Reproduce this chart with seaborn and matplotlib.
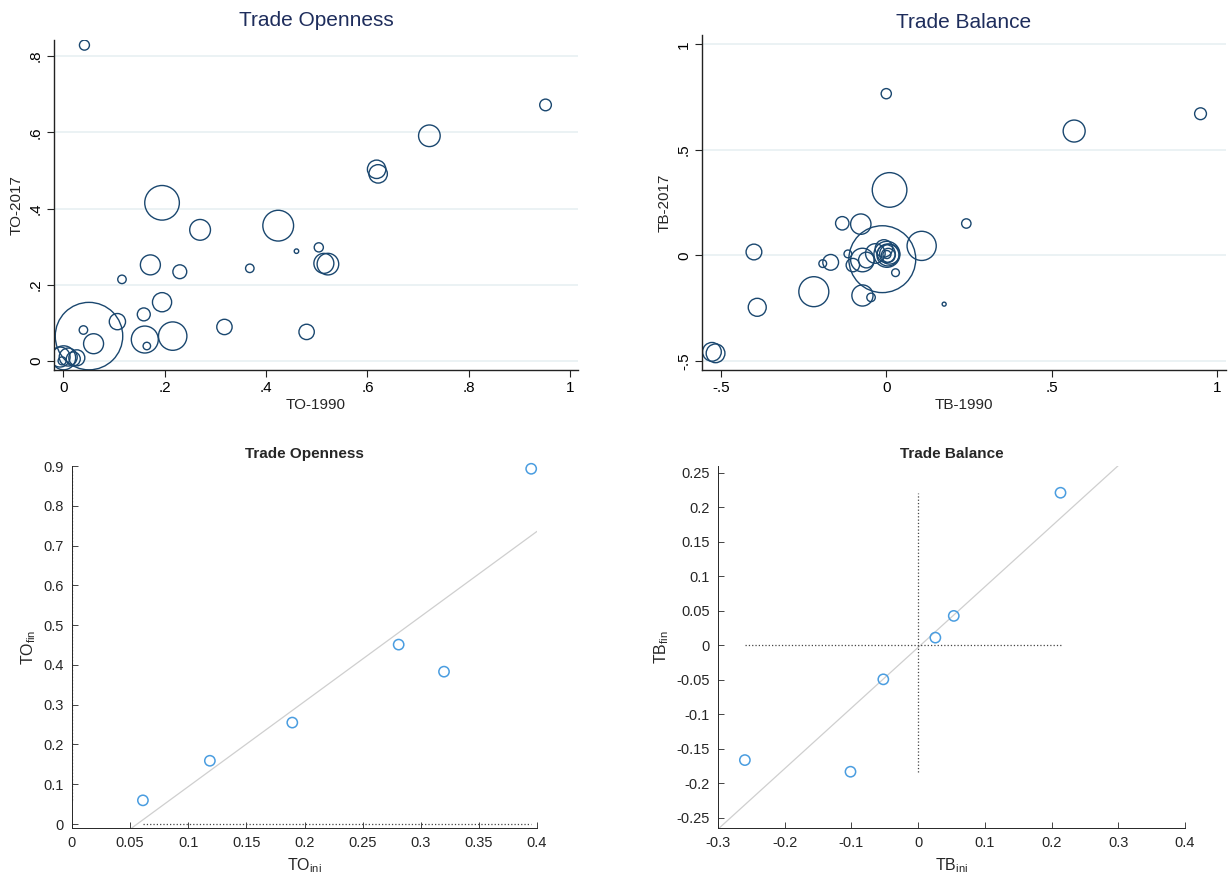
import numpy as np
import pandas as pd
import matplotlib
matplotlib.use('Agg')
import matplotlib.pyplot as plt
import seaborn as sns

sns.set_theme(style='white')
plt.rcParams['font.family'] = ['Liberation Sans', 'DejaVu Sans']

# top-left: trade openness 1990 vs 2017, bubble weight
to_1990 = [0.042, 0.951, 0.722, 0.618, 0.621, 0.195, 0.424, 0.270, 0.504, 0.460,
           0.514, 0.522, 0.172, 0.368, 0.230, 0.116, 0.195, 0.159, 0.107, 0.051,
           0.040, 0.318, 0.480, 0.216, 0.161, 0.060, 0.165,
           0.001, 0.010, 0.027, -0.002, -0.006, 0.020]
to_2017 = [0.829, 0.672, 0.591, 0.503, 0.491, 0.415, 0.355, 0.344, 0.298, 0.288,
           0.256, 0.254, 0.252, 0.243, 0.234, 0.214, 0.154, 0.122, 0.103, 0.065,
           0.081, 0.089, 0.076, 0.065, 0.056, 0.045, 0.039,
           0.008, 0.010, 0.008, 0.000, 0.010, 0.005]
to_weight = [25, 34, 117, 85, 85, 300, 237, 108, 21, 5,
             100, 117, 100, 18, 48, 18, 92, 42, 66, 1140,
             18, 59, 59, 202, 182, 100, 14,
             144, 81, 64, 16, 100, 49]

# top-right: trade balance 1990 vs 2017
tb_1990 = [0.000, 0.950, 0.568, 0.010, -0.133, -0.077, 0.242, -0.012, 0.107, -0.400,
           -0.168, -0.192, -0.116, -0.101, -0.072, -0.060, -0.033, -0.007,
           0.002, 0.005, 0.000, 0.006, 0.002, 0.010,
           0.028, -0.219, -0.072, -0.046, -0.390, 0.175, -0.527, -0.516]
tb_2017 = [0.766, 0.671, 0.589, 0.310, 0.152, 0.148, 0.151, -0.018, 0.045, 0.016,
           -0.033, -0.039, 0.007, -0.046, -0.022, -0.022, 0.009, 0.033,
           0.005, 0.002, 0.008, 0.000, 0.004, 0.006,
           -0.082, -0.172, -0.190, -0.199, -0.246, -0.231, -0.457, -0.464]
tb_weight = [26, 35, 121, 300, 45, 104, 22, 1120, 213, 62,
             62, 15, 15, 45, 139, 62, 96, 76,
             169, 121, 81, 49, 16, 100,
             15, 225, 112, 18, 81, 4, 88, 88]

# bottom: group averages
to_ini = [0.061, 0.1186, 0.1895, 0.281, 0.320, 0.395]
to_fin = [0.0595, 0.159, 0.255, 0.451, 0.383, 0.893]
tb_ini = [-0.2597, -0.1014, -0.0522, 0.0258, 0.0534, 0.2134]
tb_fin = [-0.1665, -0.1834, -0.0494, 0.0111, 0.0426, 0.2212]

navy = '#1a476f'
title_navy = '#1e2d5c'
grid_c = '#e8f0f2'


def stata_fmt(v):
    s = ('%g' % v)
    return s.replace('0.', '.') if abs(v) < 1 and v != 0 else s


def plain_fmt(v):
    v = round(float(v), 2)
    return '0' if v == 0 else '%g' % v


def bubble_panel(ax, x, y, w, xlab, ylab, title, xticks, yticks, xlim, ylim, pad):
    df = pd.DataFrame({'x': x, 'y': y, 'w': w})
    wmax = max(w)
    for t in yticks:
        ax.axhline(t, color=grid_c, lw=1.2, zorder=0)
    sns.scatterplot(data=df, x='x', y='y', size='w', sizes=(0, 2.07 * wmax),
                    size_norm=(0, wmax), legend=False, facecolor='none',
                    edgecolor=navy, linewidth=1.0, ax=ax)
    ax.set_xlim(xlim)
    ax.set_ylim(ylim)
    ax.set_xticks(xticks)
    ax.set_xticklabels([stata_fmt(v) for v in xticks], fontsize=11)
    ax.set_yticks(yticks)
    ax.set_yticklabels([stata_fmt(v) for v in yticks], fontsize=11,
                       rotation=90, va='center')
    ax.set_xlabel(xlab, fontsize=11, labelpad=2)
    ax.set_ylabel(ylab, fontsize=11, labelpad=4)
    ax.set_title(title, fontsize=15, color=title_navy, pad=pad)
    for s in ['top', 'right']:
        ax.spines[s].set_visible(False)
    for s in ['left', 'bottom']:
        ax.spines[s].set_color('#222222')
        ax.spines[s].set_linewidth(1.0)
    ax.tick_params(direction='out', length=5, width=0.8, color='#222222',
                   left=True, bottom=True, labelcolor='black', pad=3)


def matlab_panel(ax, x, y, xlab, ylab, title, xticks, yticks, xlim, ylim):
    df = pd.DataFrame({'x': x, 'y': y})
    ax.set_xlim(xlim)
    ax.set_ylim(ylim)
    sns.regplot(data=df, x='x', y='y', ci=None, scatter=False, truncate=False,
                line_kws={'color': '#cfcfcf', 'lw': 0.9}, ax=ax)
    ax.plot([min(x), max(x)], [0, 0], ls=':', color='#444444', lw=0.9)
    ax.plot([0, 0], [min(y), max(y)], ls=':', color='#444444', lw=0.9)
    sns.scatterplot(data=df, x='x', y='y', s=55, facecolor='none',
                    edgecolor='#4a9de0', linewidth=1.1, ax=ax, zorder=3,
                    clip_on=False)
    ax.set_xlim(xlim)
    ax.set_ylim(ylim)
    ax.set_xticks(xticks)
    ax.set_xticklabels([plain_fmt(v) for v in xticks], fontsize=10.5)
    ax.set_yticks(yticks)
    ax.set_yticklabels([plain_fmt(v) for v in yticks], fontsize=10.5)
    ax.set_xlabel(xlab, fontsize=11.5, color='#262626', labelpad=4)
    ax.set_ylabel(ylab, fontsize=11.5, color='#262626', labelpad=4)
    ax.set_title(title, fontsize=11, fontweight='bold', pad=6)
    for s in ['top', 'right']:
        ax.spines[s].set_visible(False)
    for s in ['left', 'bottom']:
        ax.spines[s].set_color('#262626')
        ax.spines[s].set_linewidth(0.7)
    ax.tick_params(direction='in', length=4, width=0.6, color='#262626',
                   left=True, bottom=True, labelcolor='#262626', pad=6)


fig = plt.figure(figsize=(12.31, 8.82), dpi=100)
W, H = 1231, 882


def px_axes(l, r, t, b):
    return fig.add_axes([l / W, 1 - b / H, (r - l) / W, (b - t) / H])


ax1 = px_axes(54, 578, 40, 370)
ax2 = px_axes(702, 1226, 35, 370)
ax3 = px_axes(72, 537, 466, 828)
ax4 = px_axes(718, 1185, 466, 828)

bubble_panel(ax1, to_1990, to_2017, to_weight, 'TO-1990', 'TO-2017', 'Trade Openness',
             [0, 0.2, 0.4, 0.6, 0.8, 1], [0, 0.2, 0.4, 0.6, 0.8],
             (-0.018, 1.015), (-0.024, 0.8425), 10)
bubble_panel(ax2, tb_1990, tb_2017, tb_weight, 'TB-1990', 'TB-2017', 'Trade Balance',
             [-0.5, 0, 0.5, 1], [-0.5, 0, 0.5, 1],
             (-0.557, 1.027), (-0.543, 1.044), 5)

matlab_panel(ax3, to_ini, to_fin, 'TO$_{\\mathregular{ini}}$', 'TO$_{\\mathregular{fin}}$',
             'Trade Openness', np.arange(0, 0.401, 0.05),
             np.arange(0, 0.901, 0.1), (0, 0.4), (-0.01, 0.9))
matlab_panel(ax4, tb_ini, tb_fin, 'TB$_{\\mathregular{ini}}$', 'TB$_{\\mathregular{fin}}$',
             'Trade Balance', np.arange(-0.3, 0.401, 0.1),
             np.arange(-0.25, 0.251, 0.05), (-0.3, 0.4), (-0.265, 0.26))

fig.savefig('out.png', dpi=100)
